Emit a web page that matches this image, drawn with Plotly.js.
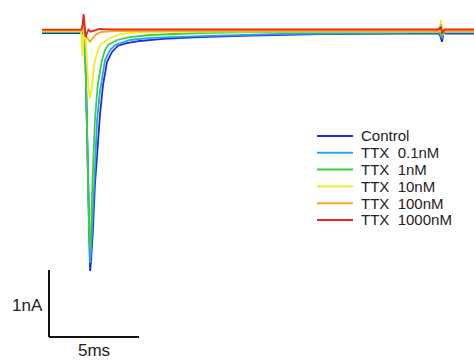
<!DOCTYPE html>
<html>
<head>
<meta charset="utf-8">
<script src="https://cdn.plot.ly/plotly-3.0.1.min.js"></script>
<style>html,body{margin:0;padding:0;background:#fff;}#chart{width:474px;height:361px;}</style>
</head>
<body>
<div id="chart"></div>
<script>
// Time in ms, current in nA
const seriesNames = ["Control", "TTX\u00a0\u00a00.1nM", "TTX\u00a0\u00a01nM", "TTX\u00a0\u00a010nM", "TTX\u00a0\u00a0100nM", "TTX\u00a0\u00a01000nM"];
const seriesColors = ["#1a2fd6", "#2ba3e6", "#3ccf3c", "#eeee22", "#f5a623", "#e8231f"];

const tControl = [0,2.2,2.3,2.39,2.44,2.5,2.56,2.61,2.67,2.72,2.83,2.94,3.06,3.22,3.39,3.61,3.89,4.22,4.72,5.44,6.72,8.78,11.56,15.44,19.89,22.0,22.11,22.22,22.33,22.44,24];
const iControl = [-0.03,-0.03,-0.045,-0.134,-0.731,-1.627,-2.522,-3.269,-3.582,-3.448,-2.970,-2.298,-1.776,-1.254,-0.806,-0.463,-0.313,-0.22,-0.18,-0.149,-0.119,-0.090,-0.067,-0.045,-0.037,-0.037,-0.06,-0.16,0.0,-0.04,-0.037];

const tTTX01 = [0,2.2,2.3,2.39,2.44,2.5,2.56,2.61,2.67,2.72,2.83,2.94,3.06,3.22,3.5,3.78,4.06,4.89,6.0,8.78,13.22,19.89,22.0,22.11,22.22,22.33,22.44,24];
const iTTX01 = [-0.015,-0.015,-0.03,-0.12,-0.7,-1.58,-2.45,-3.15,-3.463,-3.3,-2.75,-2.05,-1.33,-0.9,-0.433,-0.284,-0.209,-0.134,-0.104,-0.075,-0.045,-0.022,-0.022,-0.04,-0.11,0.02,-0.02,-0.022];

const tTTX1 = [0,2.2,2.3,2.39,2.44,2.5,2.56,2.61,2.67,2.72,2.8,2.94,3.1,3.33,3.5,3.67,4.17,4.89,6.0,8.78,11.56,22.0,22.11,22.22,22.33,22.44,24];
const iTTX1 = [-0.015,-0.015,-0.03,-0.1,-0.68,-1.5,-2.35,-2.95,-3.239,-3.0,-2.3,-1.328,-0.8,-0.433,-0.284,-0.209,-0.134,-0.09,-0.06,-0.03,-0.015,-0.015,-0.03,-0.075,0.03,-0.01,-0.015];

const tTTX10 = [0,2.15,2.2,2.25,2.3,2.35,2.42,2.5,2.58,2.67,2.75,2.85,2.94,3.22,3.78,4.33,5.44,10,22.0,22.1,22.17,22.25,22.35,22.45,24];
const iTTX10 = [0,0,-0.05,-0.38,-0.15,0.05,-0.1,-0.45,-0.85,-1.0,-0.88,-0.62,-0.433,-0.209,-0.104,-0.045,-0.015,-0.008,-0.008,0.02,0.16,-0.06,0.01,-0.008,-0.008];

const tTTX100 = [0,2.2,2.28,2.33,2.4,2.5,2.6,2.67,2.8,3.0,3.3,4,22.0,22.1,22.18,22.26,22.35,22.45,24];
const iTTX100 = [0.005,0.005,0.08,0.15,-0.06,-0.1,-0.15,-0.16,-0.11,-0.05,-0.015,0.0,0.0,0.02,0.1,-0.03,0.01,0.0,0.0];

const tTTX1000 = [0,2.2,2.26,2.31,2.35,2.42,2.5,2.58,2.7,2.9,3.2,3.6,22.0,22.08,22.15,22.23,22.3,22.4,24];
const iTTX1000 = [0.022,0.022,0.1,0.254,0.15,-0.09,-0.03,0.02,-0.01,0.01,0.03,0.025,0.025,0.04,0.06,-0.045,0.0,0.025,0.025];

// scale bar: 5 ms, 1 nA
const scaleBarTime = [0.389, 5.389];
const scaleBarCurrent = [-4.567, -3.567];
const scaleLabels = ["5ms", "1nA"];

const times = [tControl, tTTX01, tTTX1, tTTX10, tTTX100, tTTX1000];
const currents = [iControl, iTTX01, iTTX1, iTTX10, iTTX100, iTTX1000];

const traces = times.map((t, k) => ({
  x: t, y: currents[k], type: 'scatter', mode: 'lines', name: seriesNames[k],
  line: {color: seriesColors[k], width: 1.8}, showlegend: false, hoverinfo: 'skip'
}));

const W = 474, H = 361;
const FONT = 'Liberation Sans, Arial, sans-serif';
const shapes = [
  {type: 'line', xref: 'x', yref: 'y', x0: scaleBarTime[0], x1: scaleBarTime[0], y0: scaleBarCurrent[0], y1: scaleBarCurrent[1], line: {color: '#111', width: 2}},
  {type: 'line', xref: 'x', yref: 'y', x0: scaleBarTime[0], x1: scaleBarTime[1], y0: scaleBarCurrent[0], y1: scaleBarCurrent[0], line: {color: '#111', width: 2}}
];
const annotations = [
  {xref: 'x', yref: 'y', x: (scaleBarTime[0] + scaleBarTime[1]) / 2, y: scaleBarCurrent[0], text: scaleLabels[0], showarrow: false, xanchor: 'center', yanchor: 'top', yshift: -2, font: {family: FONT, size: 17, color: '#222'}},
  {xref: 'x', yref: 'y', x: scaleBarTime[0], y: (scaleBarCurrent[0] + scaleBarCurrent[1]) / 2, text: scaleLabels[1], showarrow: false, xanchor: 'right', yanchor: 'middle', xshift: -4, yshift: -2, font: {family: FONT, size: 17, color: '#222'}}
];
// manual legend
const legTop = 136, legStep = 16.8, legX0 = 317, legX1 = 353, legText = 359;
seriesNames.forEach((nm, k) => {
  const py = legTop + k * legStep;
  shapes.push({type: 'line', xref: 'paper', yref: 'paper', x0: legX0 / W, x1: legX1 / W, y0: 1 - py / H, y1: 1 - py / H, line: {color: seriesColors[k], width: 2}});
  annotations.push({xref: 'paper', yref: 'paper', x: legText / W, y: 1 - py / H, text: nm, showarrow: false, xanchor: 'left', yanchor: 'middle', font: {family: FONT, size: 15, color: '#222'}});
});

const layout = {
  width: W, height: H,
  margin: {l: 0, r: 0, t: 0, b: 0, pad: 0},
  paper_bgcolor: '#fff', plot_bgcolor: '#fff',
  showlegend: false,
  xaxis: {range: [-42 / 18, 24], visible: false, showgrid: false, zeroline: false, fixedrange: true},
  yaxis: {range: [(31 - 361) / 67, 31 / 67], visible: false, showgrid: false, zeroline: false, fixedrange: true},
  shapes: shapes,
  annotations: annotations
};

Plotly.newPlot('chart', traces, layout, {displayModeBar: false, staticPlot: true});
</script>
</body>
</html>
